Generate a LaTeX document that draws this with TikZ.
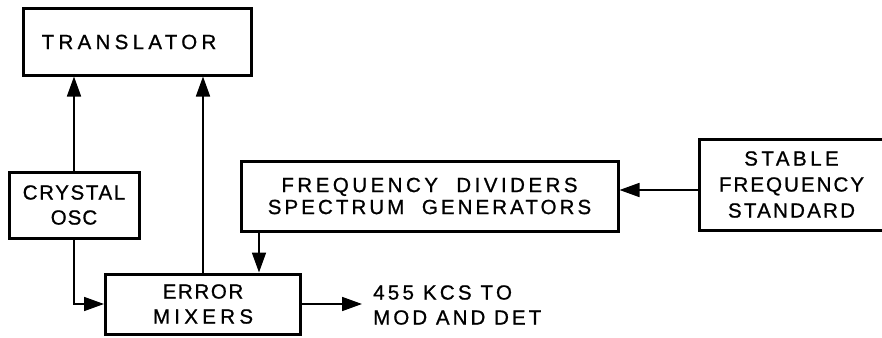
\documentclass[tikz,border=0pt]{standalone}
\usepackage{fontspec}
\setmainfont[FakeBold=0.9]{Liberation Sans}
\usetikzlibrary{arrows.meta}
\newcommand\lsp[2]{{\addfontfeatures{LetterSpace=#1}#2}}
\begin{document}
\begin{tikzpicture}[x=1pt,y=-1pt,
  box/.style={draw, line width=3pt, align=center, inner sep=0pt,
    font=\fontsize{20.5}{25}\selectfont},
  conn/.style={line width=1.7pt},
  arr/.style={conn, -{Triangle[length=20pt,width=14pt]}},
  lbl/.style={align=left, inner sep=0pt, font=\fontsize{20.5}{25}\selectfont}]
\useasboundingbox (0,0) rectangle (882,337);
\node[box, minimum width=228pt, minimum height=66pt] (trans) at (137,42) {\lsp{21}{TRANSLATOR}\hspace*{16pt}};
\node[box, minimum width=130pt, minimum height=66pt] (xtal) at (74,205) {\lsp{8}{CRYSTAL}\\\lsp{5}{OSC}};
\node[box, minimum width=377pt, minimum height=70pt, font=\fontsize{20.5}{22}\selectfont] (freq) at (429.5,196) {\lsp{17}{FREQUENCY\ \ DIVIDERS}\\\lsp{15}{SPECTRUM\ \ GENERATORS}};
\node[box, minimum width=185pt, minimum height=91pt, font=\fontsize{20.5}{26}\selectfont] (std) at (791.5,184.5) {\lsp{17}{STABLE}\\\lsp{10}{FREQUENCY}\\\lsp{11}{STANDARD}};
\node[box, minimum width=195pt, minimum height=60pt] (mix) at (203,304) {\lsp{8}{ERROR}\\\lsp{21}{MIXERS}};
\node[lbl, anchor=west] (out) at (373,305) {\lsp{16}{455 KCS TO}\\\lsp{15}{MOD AND DET}};
\coordinate (outend) at (362,304);
\coordinate (ay) at (0,190);
\coordinate (fx) at (259,0);
\draw[arr] (xtal.north) -- (xtal.north |- trans.south);
\draw[arr] (mix.north) -- (mix.north |- trans.south);
\draw[arr] (xtal.south) |- (mix.west);
\draw[arr] (freq.south -| fx) -- (mix.north -| fx);
\draw[arr] (std.west |- ay) -- (freq.east |- ay);
\draw[arr] (mix.east) -- (outend);
\end{tikzpicture}
\end{document}
